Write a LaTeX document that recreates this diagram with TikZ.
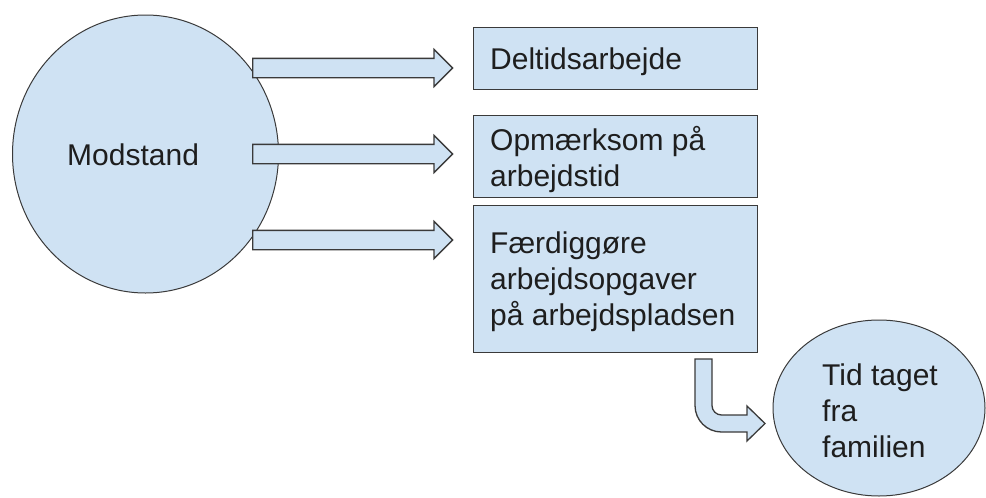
\documentclass[tikz,border=0pt]{standalone}
\usepackage{fontspec}
\setmainfont{Liberation Sans}
\usetikzlibrary{shapes.geometric,shapes.arrows}
\definecolor{fillblue}{HTML}{CFE2F3}
\definecolor{edge}{HTML}{3A3A3A}
\definecolor{ink}{HTML}{1E1E1E}
\begin{document}
\begin{tikzpicture}[x=1pt,y=1pt,
  shapebox/.style={draw=edge, line width=1.3pt, fill=fillblue},
  lbl/.style={font=\fontsize{30}{36}\selectfont, text=ink, inner sep=0pt,
    align=left, anchor=north west},
  blockarr/.style={single arrow, draw=edge, line width=1.3pt, fill=fillblue,
    text height=0pt, text depth=0pt, inner xsep=0pt, inner ysep=9pt,
    single arrow head extend=9pt, minimum width=0pt, anchor=tail}]
\useasboundingbox (0,0) rectangle (986,-498);

% source circle
\node[shapebox, ellipse, line width=1pt, minimum width=266pt, minimum height=278pt,
  inner sep=0pt] (mod) at (145.5,-154) {};
\node[lbl] (modtxt) at (67,-144) {Modstand};

% outcome boxes
\node[shapebox, rectangle, minimum width=284pt, minimum height=62pt,
  anchor=north west, inner sep=0pt] (b1) at (473,-27) {};
\node[lbl] (b1txt) at (490,-48) {Deltidsarbejde};

\node[shapebox, rectangle, minimum width=284pt, minimum height=82pt,
  anchor=north west, inner sep=0pt] (b2) at (473,-115) {};
\node[lbl] (b2txt) at (490,-126.5) {Opmærksom på\\arbejdstid};

\node[shapebox, rectangle, minimum width=284pt, minimum height=147pt,
  anchor=north west, inner sep=0pt] (b3) at (473,-205) {};
\node[lbl] (b3txt) at (490,-231.5) {Færdiggøre\\arbejdsopgaver\\på arbejdspladsen};

% consequence ellipse
\node[shapebox, ellipse, line width=1pt, minimum width=212pt, minimum height=176pt,
  inner sep=0pt] (fam) at (879,-408) {};
\node[lbl] (famtxt) at (822,-363.5) {Tid taget\\fra\\familien};

% block arrows from the circle to the boxes
\node[blockarr, minimum height=200pt] (a1) at (252,-68) {};
\node[blockarr, minimum height=200pt] (a2) at (252,-154) {};
\node[blockarr, minimum height=200pt] (a3) at (252,-240) {};

% bent arrow from the last box to the ellipse
\draw[shapebox, line join=miter]
  (695,-359) -- (695,-405.5)
  arc[start angle=180, end angle=270, radius=26.5pt]
  -- (747,-432) -- (747,-441) -- (765,-423.5) -- (747,-406) -- (747,-415)
  -- (721.5,-415)
  arc[start angle=270, end angle=180, radius=9.5pt]
  -- (712,-359) -- cycle;
\end{tikzpicture}
\end{document}
